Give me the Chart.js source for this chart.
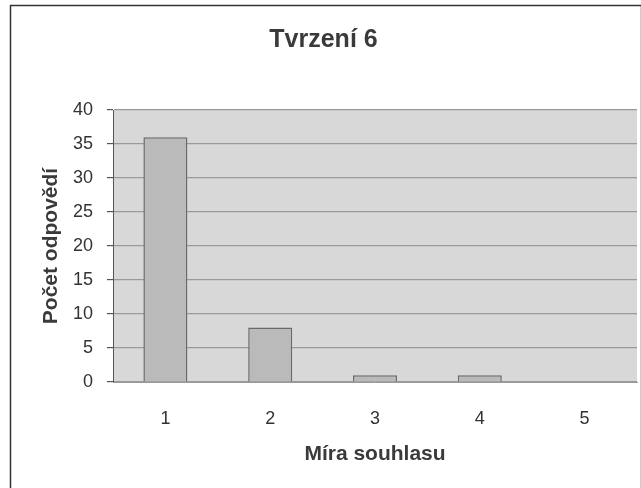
<!DOCTYPE html>
<html>
<head>
<meta charset="utf-8">
<script src="https://cdn.jsdelivr.net/npm/chart.js@4.4.0/dist/chart.umd.min.js"></script>
<style>
  html, body { margin: 0; padding: 0; background: #fff; }
  #wrap { width: 641px; height: 488px; }
</style>
</head>
<body>
<div id="wrap"><canvas id="chart" width="641" height="488"></canvas></div>
<script>
// data
const categories = ['1', '2', '3', '4', '5'];
const counts = [36, 8, 1, 1, 0];
const yTicks = [0, 5, 10, 15, 20, 25, 30, 35, 40];

// plot background + outer frame
const bgPlugin = {
    id: 'bg',
    beforeDraw(chart) {
        const ctx = chart.ctx;
        const a = chart.chartArea;
        ctx.save();
        ctx.fillStyle = '#ffffff';
        ctx.fillRect(0, 0, chart.width, chart.height);
        ctx.strokeStyle = '#333';
        ctx.lineWidth = 1.5;
        ctx.strokeRect(10.5, 5.5, chart.width - 10, chart.height);
        ctx.fillStyle = '#d8d8d8';
        ctx.fillRect(a.left, a.top, a.right - a.left, a.bottom - a.top);
        ctx.restore();
    }
};

const ctx = document.getElementById('chart').getContext('2d');
new Chart(ctx, {
    type: 'bar',
    data: {
        labels: categories,
        datasets: [{
            data: counts,
            backgroundColor: '#bababa',
            borderColor: '#6a6a6a',
            borderWidth: 1.5,
            barPercentage: 0.84,
            categoryPercentage: 0.5
        }]
    },
    plugins: [bgPlugin],
    options: {
        responsive: false,
        animation: false,
        layout: { padding: { left: 10, right: 4, top: 0, bottom: 0 } },
        plugins: {
            legend: { display: false },
            tooltip: { enabled: false },
            title: {
                display: true,
                text: 'Tvrzení 6',
                color: '#3a3a3a',
                font: { family: 'Liberation Sans', size: 25, weight: 'bold' },
                padding: { top: 25, bottom: 55 }
            }
        },
        scales: {
            x: {
                afterFit(axis) { axis.height = 106; },
                grid: { display: false, drawTicks: false },
                border: { display: true, color: '#999' },
                ticks: { color: '#333', font: { family: 'Liberation Sans', size: 18 }, padding: 26 },
                title: {
                    display: true,
                    text: 'Míra souhlasu',
                    color: '#3a3a3a',
                    font: { family: 'Liberation Sans', size: 21, weight: 'bold' },
                    padding: { top: 0, bottom: 21 }
                }
            },
            y: {
                min: 0,
                max: 40,
                afterFit(axis) { axis.width = 103; },
                afterBuildTicks(axis) {
                    axis.ticks = yTicks.map(v => ({ value: v }));
                },
                grid: { color: '#9a9a9a', lineWidth: 1.2, tickLength: 6, tickColor: '#555' },
                border: { display: true, color: '#555' },
                ticks: { color: '#333', font: { family: 'Liberation Sans', size: 18 }, padding: 14 },
                title: {
                    display: true,
                    text: 'Počet odpovědí',
                    color: '#3a3a3a',
                    font: { family: 'Liberation Sans', size: 21, weight: 'bold' },
                    padding: { top: 29, bottom: 0 }
                }
            }
        }
    }
});
</script>
</body>
</html>
